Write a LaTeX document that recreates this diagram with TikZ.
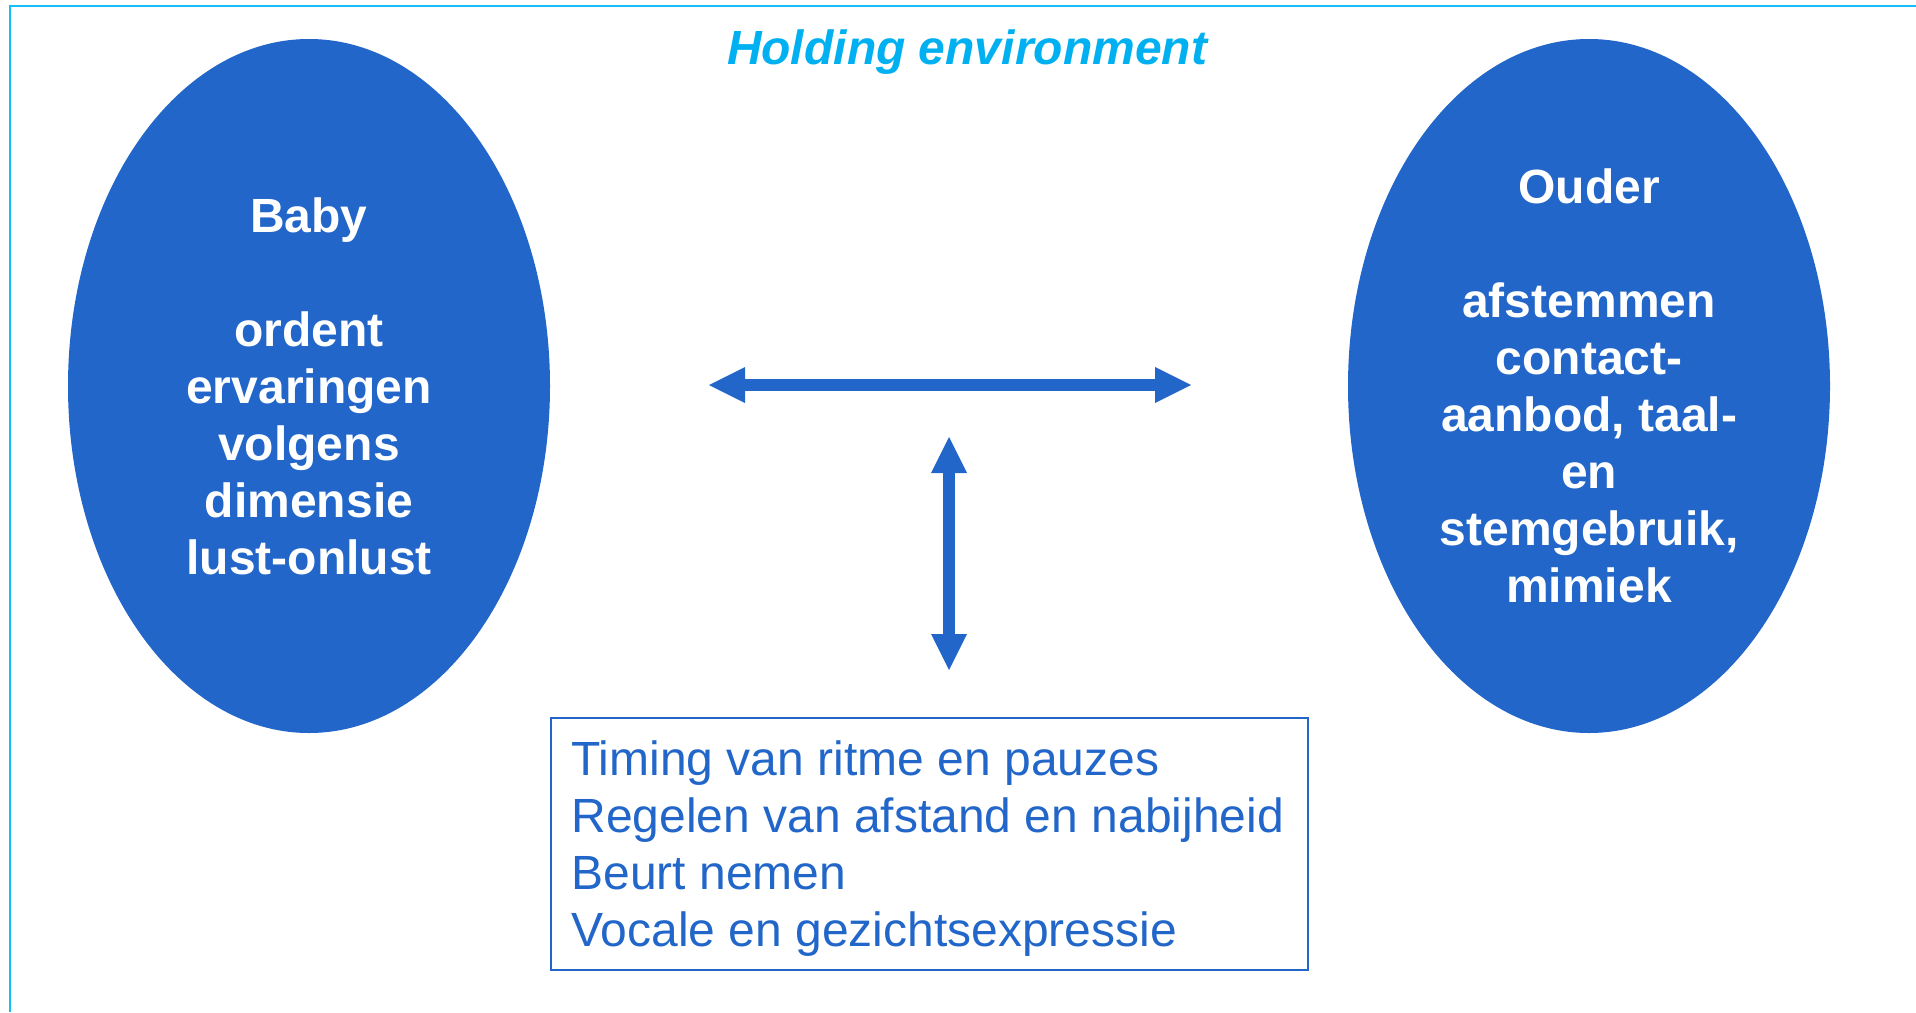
\documentclass[tikz,border=0pt]{standalone}
\usepackage{fontspec}
\setmainfont{Liberation Sans}
\usetikzlibrary{arrows.meta,shapes.geometric}
\definecolor{blob}{RGB}{33,102,200}
\definecolor{framecyan}{RGB}{20,190,250}
\definecolor{titlecyan}{RGB}{0,176,240}
\tikzset{
	party/.style={ellipse, fill=blob, text=white, inner sep=0pt,
		minimum width=241pt, minimum height=347pt, align=center,
		font=\bfseries\fontsize{24}{28.5}\selectfont},
	bothway/.style={draw=blob, line width=6pt,
		{Triangle[length=18pt,width=18pt,line width=0pt,fill=blob]}-{Triangle[length=18pt,width=18pt,line width=0pt,fill=blob]}}
}
\begin{document}
\begin{tikzpicture}[x=0.5pt,y=-0.5pt]
	\useasboundingbox (0,0) rectangle (1916,1012);
	\draw[framecyan, line width=1pt] (10,1012) -- (10,6) -- (1916,6);
	\node[anchor=base, text=titlecyan, font=\bfseries\itshape\fontsize{24}{28.5}\selectfont] (title) at (967,64) {Holding environment};
	\node[party] (baby) at (309,386) {Baby\\[28.5pt]ordent\\ervaringen\\volgens\\dimensie\\lust-onlust};
	\node[party] (ouder) at (1589,386) {Ouder\\[28.5pt]afstemmen\\contact-\\aanbod, taal-\\en\\stemgebruik,\\mimiek};
	% arrows between the two
	\coordinate (hl) at (709,385);
	\coordinate (hr) at (1191,385);
	\coordinate (vt) at (949,437);
	\coordinate (vb) at (949,670);
	\draw[bothway] (hl) -- (hr);
	\draw[bothway] (vt) -- (vb);
	\node[draw=blob, line width=1pt, anchor=north west, inner sep=0pt,
		minimum width=378.5pt, minimum height=126pt] (rules) at (550,717) {};
	\node[anchor=north west, inner sep=0pt, align=left, text=blob,
		font=\fontsize{24}{28.5}\selectfont] (list) at (571,740)
		{Timing van ritme en pauzes\\Regelen van afstand en nabijheid\\Beurt nemen\\Vocale en gezichtsexpressie};
\end{tikzpicture}
\end{document}
